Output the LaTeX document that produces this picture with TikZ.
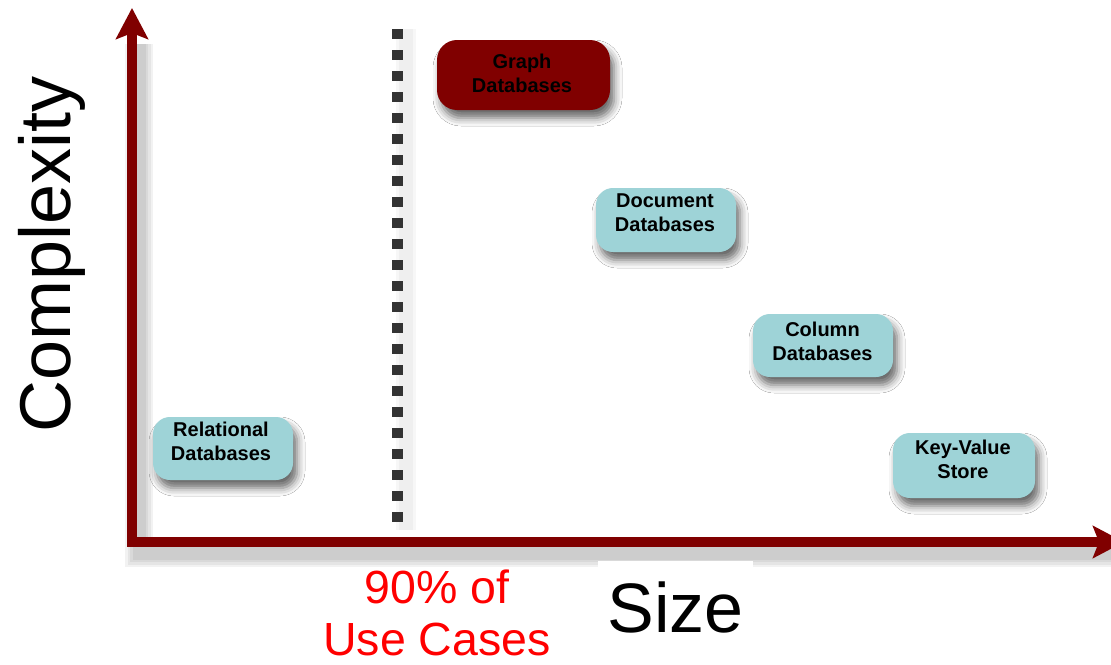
\documentclass[tikz,border=0pt]{standalone}
\usepackage{fontspec}
\setmainfont{Liberation Sans}
\usetikzlibrary{arrows.meta,shadows.blur}
\definecolor{axisred}{HTML}{800000}
\definecolor{boxblue}{HTML}{9ED3D7}
\definecolor{dotgray}{HTML}{333333}
\begin{document}
\begin{tikzpicture}[x=1pt,y=-1pt,
  boxtext/.style={font=\bfseries\fontsize{20}{24}\selectfont, align=center, inner sep=0pt},
  dbbox/.style={rounded corners=17pt, minimum width=140pt, minimum height=63pt, inner sep=0pt,
    blur shadow={shadow xshift=4pt, shadow yshift=-8pt, shadow blur radius=8pt, shadow opacity=60}},
  bluebox/.style={dbbox, fill=boxblue},
  redbox/.style={dbbox, fill=axisred, rounded corners=20pt},
  axis/.style={draw=axisred, line width=10pt, line join=miter},
  softshade/.style={black, opacity=0.05, line join=miter},
  headtip/.tip={Stealth[length=31pt, width=32pt, inset=6pt]},
]
\clip (0,0) rectangle (1111,664);
\fill[white] (0,0) rectangle (1111,664);

% axis end points
\coordinate (ytop) at (132,8);
\coordinate (origin) at (132,542);
\coordinate (xend) at (1124,542);

% soft shadow under both axes
\foreach \w in {28,23,18,13}
  \draw[softshade, line width=\w pt]
    ([shift={(7,36)}]ytop) -- ([shift={(7,11)}]origin) -- ([shift={(-6,11)}]xend);

% axes
\draw[axis, {headtip}-{headtip}] (ytop) -- (origin) -- (xend);

% dotted separator and its shadow
\coordinate (dtop) at (397.5,29);
\coordinate (dbot) at (397.5,524);
\foreach \w in {20,14}
  \draw[black, opacity=0.03, line width=\w pt] ([shift={(8,0)}]dtop) -- ([shift={(8,6)}]dbot);
\draw[dotgray, line width=11pt, dash pattern=on 10pt off 11pt] (dtop) -- (dbot);

% database families
\node[redbox, minimum width=173pt, minimum height=70pt] (graph) at (523.5,75) {};
\node[boxtext] (graph-t) at (522,73.5) {Graph\\Databases};

\node[bluebox, minimum height=64pt] (doc) at (666,220) {};
\node[boxtext] (doc-t) at (665,212.5) {Document\\Databases};

\node[bluebox] (col) at (823,345.5) {};
\node[boxtext] (col-t) at (822.5,341) {Column\\Databases};

\node[bluebox] (rel) at (223,448.5) {};
\node[boxtext] (rel-t) at (221,441.5) {Relational\\Databases};

\node[bluebox, minimum width=142pt, minimum height=65pt] (kv) at (964,465.5) {};
\node[boxtext] (kv-t) at (963,459.5) {Key-Value\\Store};

% axis labels
\node[rotate=90, anchor=base, inner sep=0pt, font=\fontsize{72}{86}\selectfont] (complexity) at (70,254) {Complexity};
\node[anchor=base, fill=white, inner xsep=9.5pt, inner ysep=20pt, font=\fontsize{70}{84}\selectfont] (size) at (675.5,632) {Size};
\node[text=red, align=center, inner sep=0pt, font=\fontsize{46.5}{52}\selectfont] (usecases) at (437,613) {90\% of\\Use Cases};
\end{tikzpicture}
\end{document}
